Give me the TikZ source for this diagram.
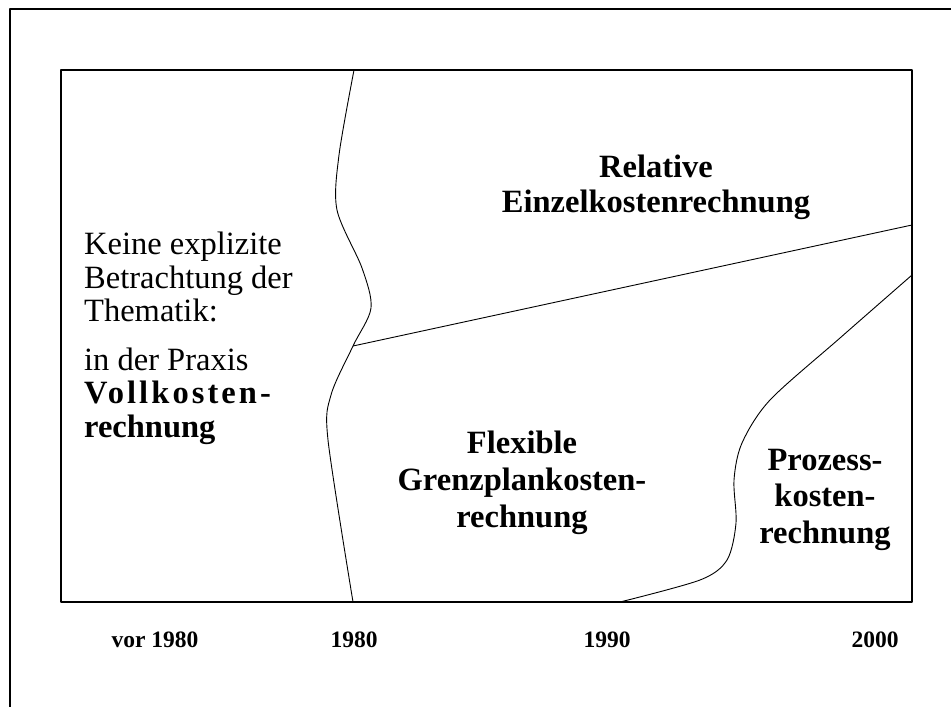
\documentclass[tikz,border=0pt]{standalone}
\usepackage{fontspec}
\setmainfont{Liberation Serif}
\begin{document}
\begin{tikzpicture}[x=1pt, y=-1pt, line join=round, line cap=round]
	\tikzset{region/.style={font=\bfseries\fontsize{32.5}{37}\selectfont, align=center, inner sep=0pt, anchor=base},
		year/.style={font=\bfseries\fontsize{23.5}{28}\selectfont, inner sep=0pt, anchor=base},
		frame/.style={line width=1.3pt},
		limit/.style={line width=0.9pt}}
	%Grenzen des Diagramms
	\def \xmin{61}
	\def \xmax{912}
	\def \ymin{70}
	\def \ymax{602}
	\useasboundingbox (0,0) rectangle (951,707);
	
	\draw[line width=2pt] (10,707) -- (10,9) -- (951,9);
	\draw[frame] (\xmin,\ymin) rectangle (\xmax,\ymax);
	
	%Trennlinien
	\coordinate (J) at (353,346);
	\coordinate (E) at (\xmax,225);
	\draw[limit] plot[smooth] coordinates {(354,\ymin) (339,155) (337,210) (362,268) (371,308) (J) (331,395) (328,440) (353,\ymax)};
	\draw[limit] (J) -- (E);
	\draw[limit] plot[smooth] coordinates {(\xmax,275) (840,338) (770,400) (742,443) (734,480) (736,523) (727,560) (700,580) (620,\ymax)};
	
	%Texte (Anker = Grundlinie der letzten Zeile)
	\node[inner sep=0pt, anchor=base west, align=left, font=\fontsize{32.5}{33.5}\selectfont] (keine) at (84,437)
	{Keine explizite\\Betrachtung der\\Thematik:\\[15pt]in der Praxis\\{\bfseries\addfontfeature{LetterSpace=9.5}Vollkosten-}\\{\bfseries rechnung}};
	\node[region, font=\bfseries\fontsize{32.5}{35}\selectfont] (rel) at (656,212) {Relative\\Einzelkostenrechnung};
	\node[region] (flex) at (522,527) {Flexible\\Grenzplankosten-\\rechnung};
	\node[region, font=\bfseries\fontsize{32.5}{36.5}\selectfont] (proz) at (825,543) {Prozess-\\kosten-\\rechnung};
	
	\node[year] (y0) at (155,647) {vor 1980};
	\node[year] (y1) at (354,647) {1980};
	\node[year] (y2) at (607,647) {1990};
	\node[year] (y3) at (875,647) {2000};
\end{tikzpicture}
\end{document}
